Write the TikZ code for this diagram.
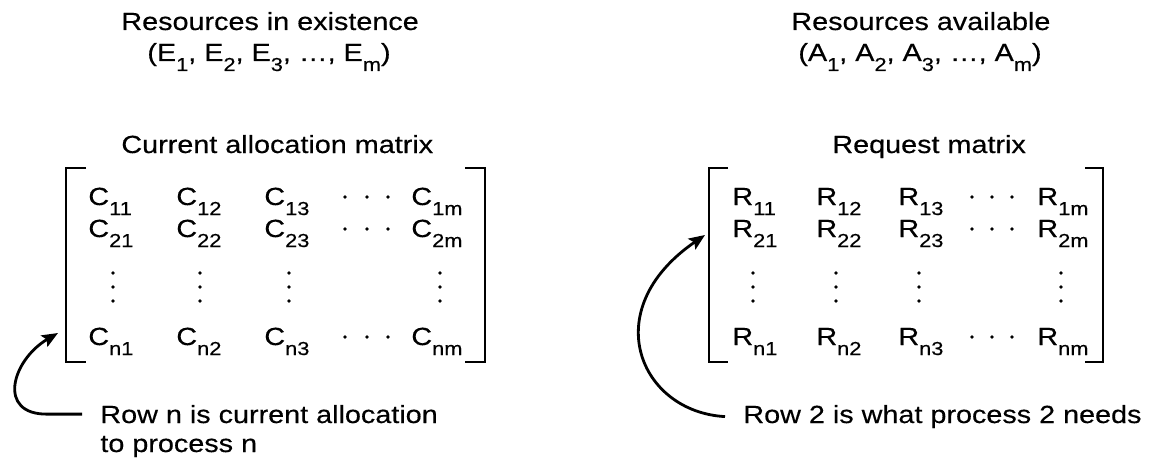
\documentclass[tikz,border=0pt]{standalone}
\usepackage{fontspec}
\setmainfont{Liberation Sans}[FakeStretch=1.16,FakeBold=0.4]
\usepackage{tikz}
\usetikzlibrary{arrows.meta}

\newcommand{\idx}[2]{#1\raisebox{-5pt}{\fontsize{9.4}{10}\selectfont #2}}

\begin{document}
\begin{tikzpicture}[
  x=0.5pt, y=0.5pt,
  txt/.style={inner sep=0pt, anchor=base west, font=\fontsize{12.4}{14}\selectfont},
  ent/.style={txt},
  capt/.style={txt, inner xsep=9pt},
  brk/.style={line width=1pt},
  arr/.style={-{Stealth[length=8pt,width=6.5pt,inset=1.5pt]}, line width=1.4pt},
]
\useasboundingbox (0,0) rectangle (1155,-465);

% headings, left
\node[txt] (exist) at (121,-30) {Resources in existence};
\node[txt] (evec)  at (147,-61) {(\idx{E}{1}, \idx{E}{2}, \idx{E}{3}, …, \idx{E}{m})};
\node[txt] (alloc) at (121,-153) {Current allocation matrix};

% headings, right
\node[txt] (avail) at (791,-30) {Resources available};
\node[txt] (avec)  at (798,-61) {(\idx{A}{1}, \idx{A}{2}, \idx{A}{3}, …, \idx{A}{m})};
\node[txt] (req)   at (832,-153) {Request matrix};

% matrix entries
\foreach \i/\y in {1/205,2/237,n/345}{
  \foreach \j/\xc/\xr in {1/88/732,2/176/816,3/264/898,m/411/1037}{
    \node[ent] (c\i\j) at (\xc,-\y) {\idx{C}{\i\j}};
    \node[ent] (r\i\j) at (\xr,-\y) {\idx{R}{\i\j}};
  }
}

% dots
\foreach \y in {197,229,337}{
  \foreach \x in {345,367,388,972,992,1012} \fill (\x,-\y) circle (0.9pt);
}
\foreach \x in {113,200,289,440,753,836,919,1061}{
  \foreach \y in {273,287,301} \fill (\x,-\y) circle (0.9pt);
}

% brackets
\draw[brk] (86,-168) -| (66,-362) -- (86,-362);
\draw[brk] (465,-168) -| (485,-362) -- (465,-362);
\draw[brk] (728,-168) -| (709,-362) -- (728,-362);
\draw[brk] (1085,-168) -| (1103,-362) -- (1085,-362);

% captions
\node[capt] (rown)  at (82,-423) {Row n is current allocation};
\node[capt] (rown2) at (82,-452) {to process n};
\node[capt] (row2)  at (725,-423) {Row 2 is what process 2 needs};

% arrows
\coordinate (pn) at (58,-333);
\coordinate (p2) at (705,-235);
\draw[arr] (rown.west) -- ++(-17pt,0) .. controls (-4,-415) and (12,-360) .. (pn);
\draw[arr] (row2.west) .. controls (640,-412) and (596,-310) .. (p2);

\end{tikzpicture}
\end{document}
